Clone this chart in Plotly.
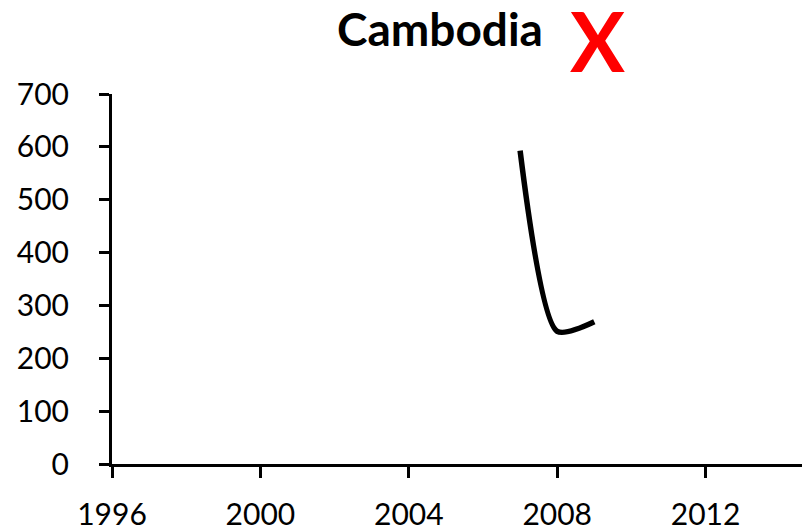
import plotly.graph_objects as go

# Data
years = [2007, 2008, 2009]
values = [593, 251, 269]

x_ticks = [1996, 2000, 2004, 2008, 2012]
y_ticks = [0, 100, 200, 300, 400, 500, 600, 700]

fig = go.Figure()

fig.add_trace(go.Scatter(
    x=years,
    y=values,
    mode='lines',
    line=dict(color='black', width=5.5, shape='spline', smoothing=0.7),
    showlegend=False,
    hoverinfo='skip'
))

axis_font = dict(family='Lato, Open Sans, sans-serif', size=30, color='black')

# the page has an 8px body margin, so the margins are trimmed by 8px;
# the x axis runs off the right edge of the window like in the source
fig.update_layout(
    width=820,
    height=529,
    margin=dict(l=104, r=0, t=86, b=73),
    plot_bgcolor='white',
    paper_bgcolor='white',
    xaxis=dict(
        range=[1996, 1996 + 716 / 37.1],
        tickvals=x_ticks,
        ticktext=[str(v) for v in x_ticks],
        ticks='outside',
        ticklen=11,
        tickwidth=3,
        tickcolor='black',
        showline=True,
        linewidth=3,
        linecolor='black',
        showgrid=False,
        zeroline=False,
        tickfont=axis_font,
        ticklabelstandoff=11,
        automargin=False
    ),
    yaxis=dict(
        range=[0, 700],
        tickvals=y_ticks,
        ticks='outside',
        ticklen=10,
        tickwidth=3,
        tickcolor='black',
        showline=True,
        linewidth=3,
        linecolor='black',
        showgrid=False,
        zeroline=False,
        tickfont=axis_font,
        ticklabelstandoff=24,
        automargin=False
    ),
    annotations=[
        dict(
            text='<b>Cambodia</b>',
            xref='paper', yref='paper',
            x=(440 - 112) / 716, y=1 + (94 - 28) / 370,
            xanchor='center', yanchor='middle',
            showarrow=False,
            font=dict(family='Lato, Open Sans, sans-serif', size=46, color='black')
        ),
        dict(
            text='<b>X</b>',
            xref='paper', yref='paper',
            x=(597 - 112) / 716, y=1 + (94 - 40) / 370,
            xanchor='center', yanchor='middle',
            showarrow=False,
            font=dict(family='Lato, Open Sans, sans-serif', size=82, color='#FF0000')
        )
    ]
)

fig.write_html("out.html")
